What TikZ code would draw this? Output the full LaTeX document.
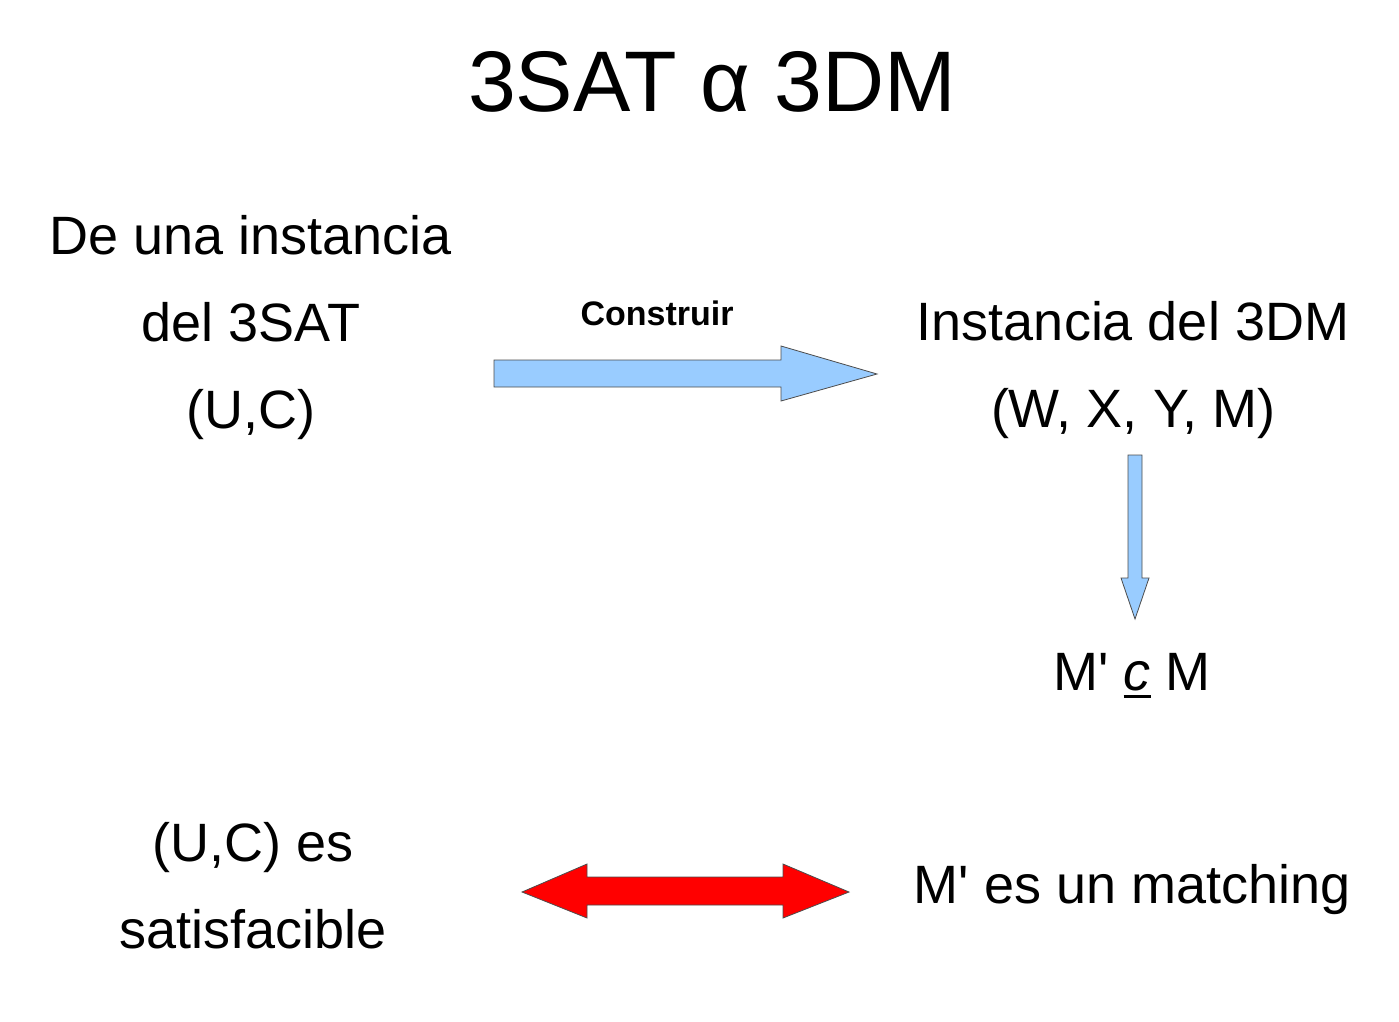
\documentclass[tikz,border=0pt]{standalone}
\usepackage{fontspec}
\setmainfont{Liberation Sans}
\usepackage{tikz}
\definecolor{arrowblue}{RGB}{153,204,255}
\newcommand{\bigtxt}{\fontsize{54}{87}\selectfont}
\newcommand{\q}{\textquotesingle}
\newcommand{\thickul}[1]{\setbox0\hbox{#1}\rlap{\raisebox{-8pt}{\rule{\wd0}{3.5pt}}}\box0\relax}

\begin{document}
\begin{tikzpicture}[x=1pt, y=-1pt,
  txt/.style={anchor=base, align=center, inner sep=0pt, font=\bigtxt},
  bluearrow/.style={fill=arrowblue, draw=black!70, line width=0.8pt},
  redarrow/.style={fill=red, draw=black!70, line width=0.8pt}]
\useasboundingbox (0,0) rectangle (1399,1021);
\node[anchor=base, inner sep=0pt, font=\fontsize{86}{100}\selectfont] (title) at (712,111) {3SAT α 3DM};
\node[txt] (sat) at (251,428) {De una instancia\\del 3SAT\\(U,C)};
\node[txt] (dm) at (1133,427) {Instancia del 3DM\\(W, X, Y, M)};
\node[txt] (sub) at (1132,690) {M\q{} \thickul{\textit{c}} M};
\node[txt] (satis) at (253,948) {(U,C) es\\satisfacible};
\node[txt] (match) at (1132,903) {M\q{} es un matching};
\node[anchor=base, inner sep=0pt, font=\fontsize{34}{40}\selectfont\bfseries] (construir) at (657,325) {Construir};
% flechas
\filldraw[bluearrow] (494,360) -- (781,360) -- (781,346) -- (877,374) -- (781,401) -- (781,387) -- (494,387) -- cycle;
\filldraw[bluearrow] (1128,455) -- (1142,455) -- (1142,578) -- (1149,578) -- (1135,619) -- (1121,578) -- (1128,578) -- cycle;
\filldraw[redarrow] (522,892) -- (587,864) -- (587,877) -- (783,877) -- (783,864) -- (849,892) -- (783,918) -- (783,905) -- (587,905) -- (587,918) -- cycle;
\end{tikzpicture}
\end{document}
